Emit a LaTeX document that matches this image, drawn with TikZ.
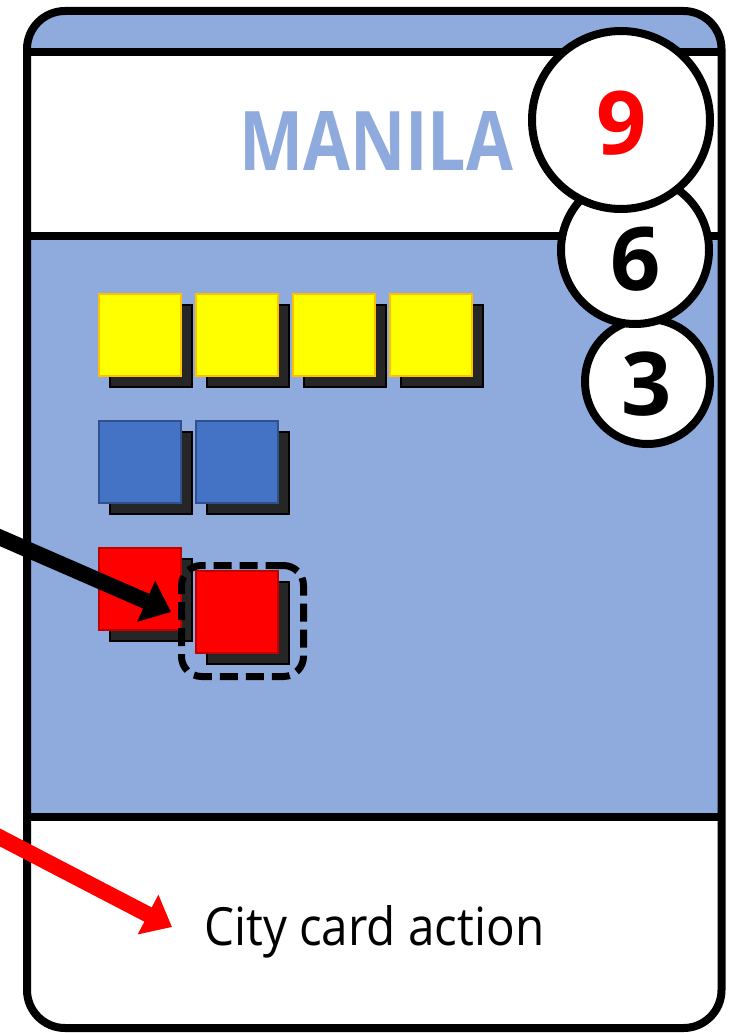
\documentclass[tikz,border=0pt]{standalone}
\usepackage{fontspec}
\setmainfont{Open Sans}
\usetikzlibrary{arrows.meta}
\definecolor{cardblue}{HTML}{8FAADC}
\definecolor{cubeyellow}{HTML}{FFFF00}
\definecolor{yellowedge}{HTML}{FFC000}
\definecolor{cubeblue}{HTML}{4472C4}
\definecolor{blueedge}{HTML}{2F528F}
\definecolor{cubered}{HTML}{FF0000}
\definecolor{rededge}{HTML}{C00000}
\definecolor{shadegray}{HTML}{262626}
\newcommand\cubeat[5]{%
  \node[cubeshade] (#1s) at (#2+53,#3+53) {};
  \node[cubeface, fill=#4, draw=#5] (#1) at (#2+42,#3+42) {};}
\begin{document}
\begin{tikzpicture}[x=1pt,y=-1pt,
  cubeface/.style={draw, line width=2pt, minimum size=82pt, inner sep=0pt, outer sep=0pt},
  cubeshade/.style={cubeface, fill=shadegray, draw=black},
  token/.style={circle, draw=black, fill=white, line width=8pt, inner sep=0pt},
  digit/.style={font=\bfseries\fontsize{88}{88}\selectfont, inner sep=0pt},
  pointer/.style={line width=16pt, -{Triangle[width=43pt,length=27pt]}},
  band/.style={line width=8pt}
  ]
\fill[white] (0,0) rectangle (734,1033);
\useasboundingbox (0,0) rectangle (734,1033);
\begin{scope}
  \clip[rounded corners=38pt] (27,11) rectangle (721.5,1028);
  \fill[cardblue] (0,0) rectangle (734,52.5);
  \fill[white] (0,52.5) rectangle (734,235.5);
  \fill[cardblue] (0,235.5) rectangle (734,816.5);
  \fill[white] (0,816.5) rectangle (734,1033);
\end{scope}
\draw[band] (27,52.5) -- (721.5,52.5);
\draw[band] (27,235.5) -- (721.5,235.5);
\draw[band] (27,816.5) -- (721.5,816.5);
\draw[band, rounded corners=38pt] (27,11) rectangle (721.5,1028);

\node[anchor=base west, inner sep=0pt, text=cardblue] (title) at (239,170)
  {\resizebox{274pt}{59pt}{\bfseries MANILA}};

\node[token, minimum size=125pt] (c3) at (647.5,381.5) {};
\node[token, minimum size=148pt] (c6) at (635,250) {};
\node[token, minimum size=178pt] (c9) at (621,120) {};
\node[digit, text=red] (d9) at (621.5,123) {9};
\node[digit] (d6) at (636,259) {6};
\node[digit] (d3) at (647,384) {3};

\cubeat{y1}{98}{293}{cubeyellow}{yellowedge}
\cubeat{y2}{195}{293}{cubeyellow}{yellowedge}
\cubeat{y3}{292}{293}{cubeyellow}{yellowedge}
\cubeat{y4}{389}{293}{cubeyellow}{yellowedge}
\cubeat{b1}{98}{420}{cubeblue}{blueedge}
\cubeat{b2}{195}{420}{cubeblue}{blueedge}
\cubeat{r1}{98}{547}{cubered}{rededge}
\cubeat{r2}{195}{570}{cubered}{rededge}

\node[draw, line width=7pt, dash pattern=on 18pt off 8pt, rounded corners=20pt,
  minimum width=122pt, minimum height=111pt, inner sep=0pt] (sel) at (242.5,621) {};

\coordinate (ba0) at (-20,528.8);
\coordinate (ba1) at (171,612);
\draw[pointer] (ba0) -- (ba1);
\coordinate (ra0) at (-20,827.1);
\coordinate (ra1) at (172,927);
\draw[pointer, draw=red, fill=red] (ra0) -- (ra1);

\node[anchor=base west, inner sep=0pt] (action) at (204,945)
  {\resizebox{340pt}{40pt}{City card action}};
\end{tikzpicture}
\end{document}
